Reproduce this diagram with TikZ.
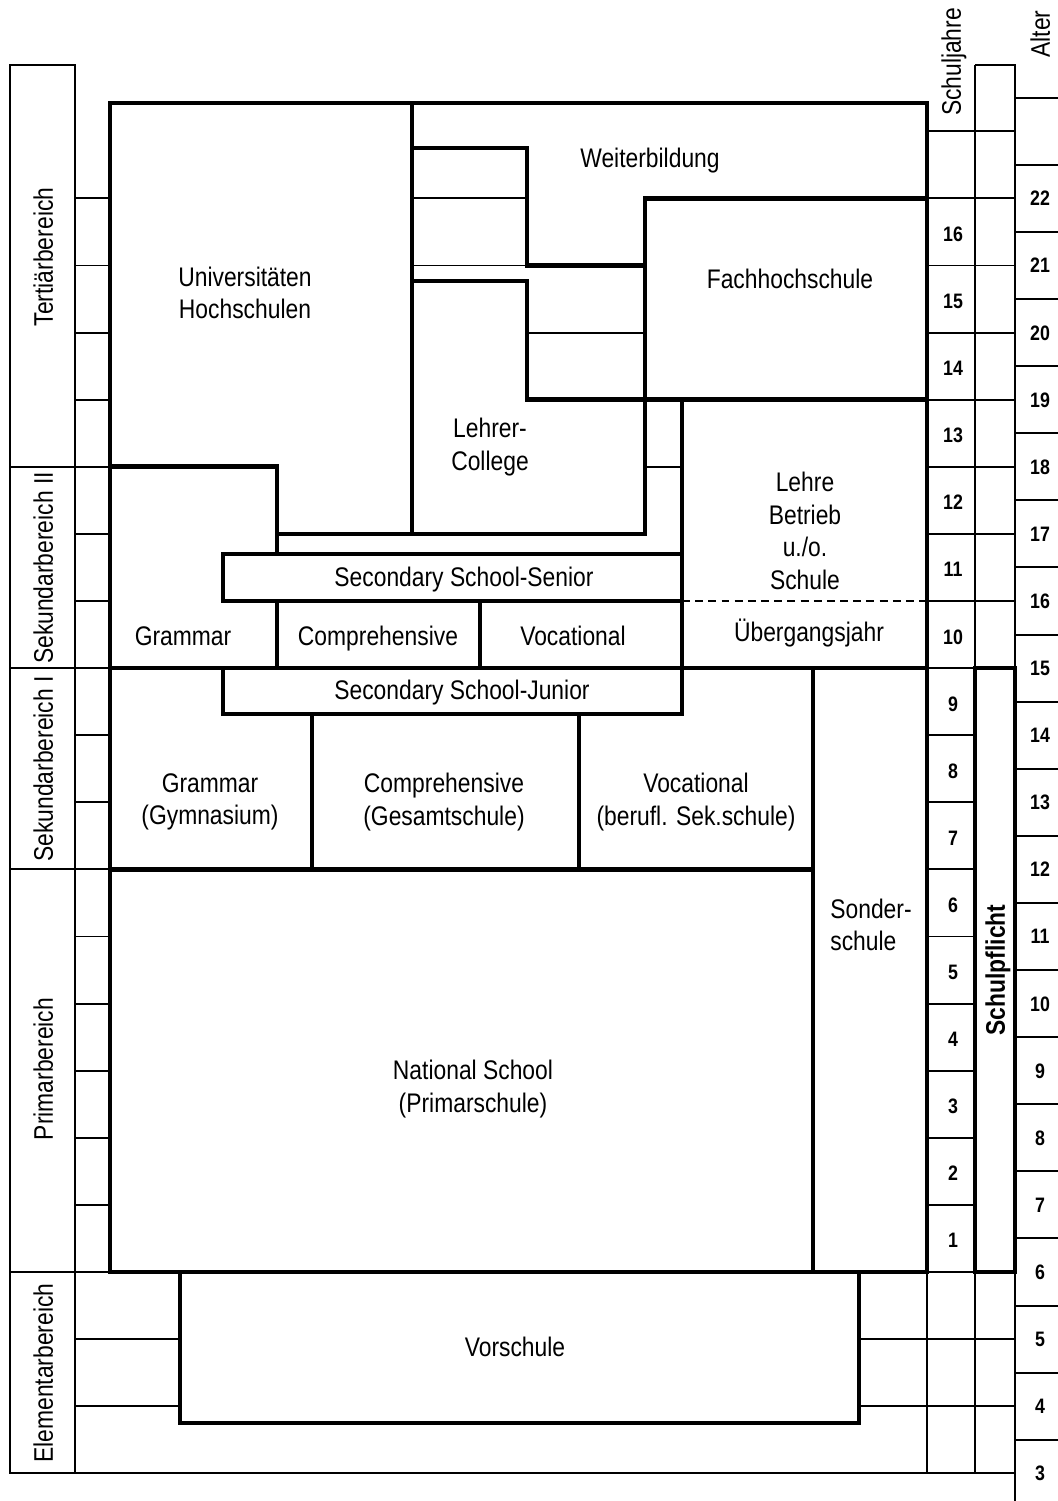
\documentclass[tikz,border=0pt]{standalone}
\usepackage{fontspec}
\setmainfont{Liberation Sans}[FakeStretch=0.85]
\begin{document}
\begin{tikzpicture}[x=0.02cm, y=-0.02cm,
  thinln/.style={line width=1.1pt},
  heavy/.style={line width=2.7pt, line cap=rect},
  txt/.style={font=\fontsize{15.3}{18.6}\selectfont, align=center, inner sep=0pt},
  line1/.style={txt, text height=11pt, text depth=3.3pt},
  sidetxt/.style={line1, rotate=90},
  num/.style={font=\fontsize{11.9}{14}\selectfont\bfseries, inner sep=0pt, text height=8.5pt, text depth=0pt}]
\useasboundingbox (0,0) rectangle (1058,1501);

% ---- thin grid: label column, year ticks, year/age columns
\draw[thinln] (10,65) rectangle (75,1473.3);
\foreach \y in {466.8,668.1,869.4,1272} \draw[thinln] (10,\y) -- (75,\y);
\foreach \k in {0,...,16} \draw[thinln] (75,{1272-67.1*\k}) -- (110,{1272-67.1*\k});
\foreach \k in {1,2} {
  \draw[thinln] (75,{1272+67.1*\k}) -- (180,{1272+67.1*\k});
  \draw[thinln] (859,{1272+67.1*\k}) -- (1015,{1272+67.1*\k});
}
\draw[thinln] (75,1473.3) -- (1015,1473.3);
\draw[thinln] (927,1272) -- (927,1473.3);
\draw[thinln] (975,65) -- (975,1473.3);
\draw[thinln] (975,65) -- (1015,65) -- (1015,1501);
\foreach \k in {9,...,17} \draw[thinln] (927,{1272-67.1*\k}) -- (1015,{1272-67.1*\k});
\foreach \k in {1,...,8} \draw[thinln] (927,{1272-67.1*\k}) -- (975,{1272-67.1*\k});
\draw[thinln] (927,1272) -- (1015,1272);
\foreach \k in {-3,...,17} \draw[thinln] (1015,{1272-67.1*(\k+0.5)}) -- (1058,{1272-67.1*(\k+0.5)});

% ---- thin divisions inside the school blocks
\draw[thinln] (412,198.4) -- (527,198.4);
\draw[thinln] (412,265.5) -- (527,265.5);
\draw[thinln] (527,332.6) -- (645,332.6);
\draw[thinln] (645,466.8) -- (682,466.8);
\draw[thinln, dash pattern=on 4.5pt off 3pt] (682,601) -- (927,601);

% ---- school types (heavy outlines)
\draw[heavy] (110,1272) -- (110,103) -- (927,103) -- (927,1272) -- cycle;
\draw[heavy] (412,103) -- (412,533.9);
\draw[heavy] (412,148) -- (527,148) -- (527,265.5) -- (645,265.5);
\draw[heavy] (412,281) -- (527,281) -- (527,399.7) -- (927,399.7);
\draw[heavy] (645,533.9) -- (645,198.4) -- (927,198.4);
\draw[heavy] (277,533.9) -- (645,533.9);
\draw[heavy] (110,466.8) -- (277,466.8) -- (277,554);
\draw[heavy] (277,601) -- (277,668.1);
\draw[heavy] (223,554) rectangle (682,601);
\draw[heavy] (682,399.7) -- (682,714);
\draw[heavy] (480,601) -- (480,668.1);
\draw[heavy] (110,668.1) -- (927,668.1);
\draw[heavy] (223,668.1) -- (223,714) -- (682,714);
\draw[heavy] (312,714) -- (312,869.4);
\draw[heavy] (579,714) -- (579,869.4);
\draw[heavy] (110,869.4) -- (813,869.4);
\draw[heavy] (813,668.1) -- (813,1272);
\draw[heavy] (180,1272) -- (180,1423) -- (859,1423) -- (859,1272);
\draw[heavy] (975,668.1) rectangle (1015,1272);

% ---- labels
\node[line1] (weiter) at (650,161) {Weiterbildung};
\node[txt] (uni) at (245,293) {Universitäten\\Hochschulen};
\node[line1] (fh) at (790,282) {Fachhochschule};
\node[txt] (lehrer) at (490,447) {Lehrer-\\College};
\node[txt] (lehre) at (805,531) {Lehre\\Betrieb\\u./o.\\Schule};
\node[line1] (senior) at (464,580) {Secondary School-Senior};
\node[line1] (gram2) at (183,639) {Grammar};
\node[line1] (comp2) at (378,639) {Comprehensive};
\node[line1] (voc2) at (573,639) {Vocational};
\node[line1] (ueber) at (809,635) {Übergangsjahr};
\node[line1] (junior) at (462,693) {Secondary School-Junior};
\node[txt] (gram1) at (210,802) {Grammar\\(Gymnasium)};
\node[txt] (comp1) at (444,802) {Comprehensive\\(Gesamtschule)};
\node[txt] (voc1) at (696,802) {Vocational\\(berufl. Sek.schule)};
\node[txt, align=left, anchor=west] (sonder) at (830,925) {Sonder-\\schule};
\node[txt] (national) at (473,1089) {National School\\(Primarschule)};
\node[line1] (vor) at (515,1350) {Vorschule};

\node[sidetxt] (tert) at (46,257) {Tertiärbereich};
\node[sidetxt] (sek2) at (46,568) {Sekundarbereich II};
\node[sidetxt] (sek1) at (46,769) {Sekundarbereich I};
\node[sidetxt] (prim) at (46,1069) {Primarbereich};
\node[sidetxt] (elem) at (46,1373) {Elementarbereich};

\node[sidetxt] (sjhead) at (954,62) {Schuljahre};
\node[sidetxt] (agehead) at (1043,34) {Alter};
\node[sidetxt, font=\fontsize{15.3}{18.6}\selectfont\bfseries] (pflicht) at (998,970) {Schulpflicht};

\foreach \k in {1,...,16} \node[num] (sj\k) at (953,{1272-67.1*(\k-0.5)+2}) {\k};
\foreach \a in {3,...,22} \node[num] (age\a) at (1040,{1272-67.1*(\a-6)}) {\a};
\end{tikzpicture}
\end{document}
